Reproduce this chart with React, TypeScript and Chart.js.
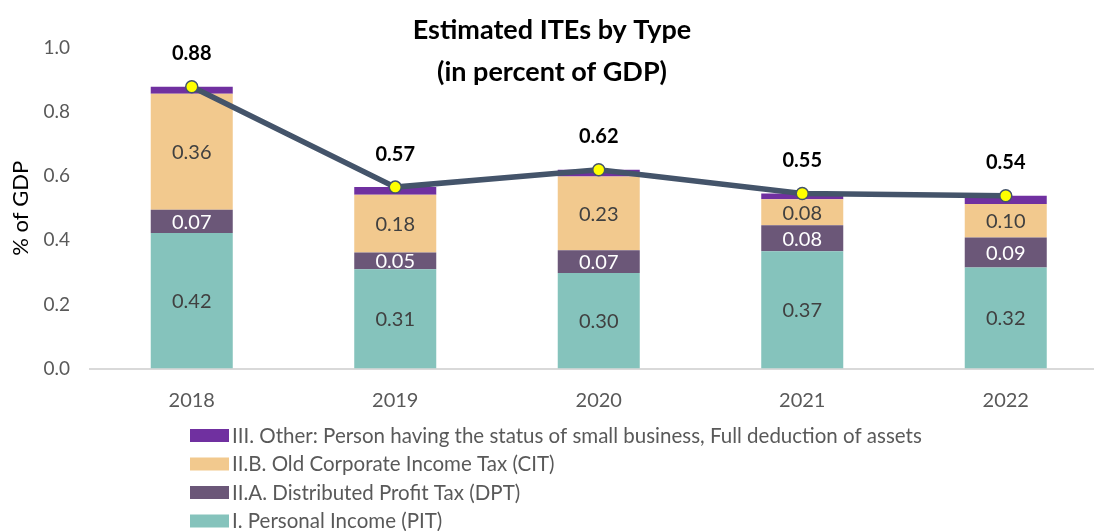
import React, { useEffect, useRef } from 'react';
import { Chart, registerables } from 'chart.js';

Chart.register(...registerables);

const years = ['2018', '2019', '2020', '2021', '2022'];
const pitValues = [0.423, 0.310, 0.298, 0.366, 0.315];
const dptValues = [0.072, 0.052, 0.071, 0.081, 0.094];
const citValues = [0.362, 0.180, 0.230, 0.081, 0.104];
const otherValues = [0.022, 0.024, 0.021, 0.018, 0.026];
const totalValues = [0.879, 0.566, 0.620, 0.546, 0.539];

const pitLabel = 'I. Personal Income (PIT)';
const dptLabel = 'II.A. Distributed Profit Tax (DPT)';
const citLabel = 'II.B. Old Corporate Income Tax (CIT)';
const otherLabel = 'III. Other: Person having the status of small business, Full deduction of assets';
const totalLabel = 'Total';
const titleLines = ['Estimated ITEs by Type', '(in percent of GDP)'];
const yAxisTitle = '% of GDP';

const FONT = 'Lato';

const labelsPlugin = {
  id: 'customLabels',
  afterDatasetsDraw(chart: any) {
    const ctx = chart.ctx;
    ctx.save();
    chart.data.datasets.forEach((ds: any, i: number) => {
      const meta = chart.getDatasetMeta(i);
      if (meta.hidden) return;
      if (ds.showValue === false) return;
      meta.data.forEach((el: any, j: number) => {
        const v = ds.data[j];
        const text = v.toFixed(2);
        if (ds.type === 'line') {
          ctx.font = `bold 20px ${FONT}`;
          ctx.fillStyle = '#000000';
          ctx.textAlign = 'center';
          ctx.textBaseline = 'middle';
          ctx.fillText(text, el.x, el.y - 33);
        } else {
          const p = el.getProps(['x', 'y', 'base'], true);
          ctx.font = `20px ${FONT}`;
          ctx.fillStyle = ds.valueColor;
          ctx.textAlign = 'center';
          ctx.textBaseline = 'middle';
          ctx.fillText(text, p.x, (p.y + p.base) / 2 + 1);
        }
      });
    });
    ctx.restore();
  },
  afterDraw(chart: any) {
    const ctx = chart.ctx;
    ctx.save();
    // title
    ctx.font = `bold 27px ${FONT}`;
    ctx.fillStyle = '#000000';
    ctx.textAlign = 'center';
    ctx.textBaseline = 'middle';
    ctx.fillText(titleLines[0], 552, 30);
    ctx.fillText(titleLines[1], 552, 72);
    // legend (reverse order, bars only)
    const items = chart.data.datasets.filter((d: any) => d.type === 'bar').slice().reverse();
    ctx.font = `20.5px ${FONT}`;
    ctx.textAlign = 'left';
    ctx.textBaseline = 'middle';
    items.forEach((d: any, k: number) => {
      const cy = 435 + k * 28.5;
      ctx.fillStyle = d.backgroundColor;
      ctx.fillRect(190, cy - 6, 39, 13);
      ctx.fillStyle = '#595959';
      ctx.fillText(d.label, 232, cy + 1);
    });
    ctx.restore();
  },
};

export default function App() {
  const ref = useRef<HTMLCanvasElement | null>(null);
  useEffect(() => {
    if (!ref.current) return;
    const chart = new Chart(ref.current, {
      type: 'bar',
      data: {
        labels: years,
        datasets: [
          {
            type: 'line',
            label: totalLabel,
            data: totalValues,
            borderColor: '#44546A',
            borderWidth: 5.5,
            pointRadius: 6,
            pointBackgroundColor: '#FFFF00',
            pointBorderColor: '#44546A',
            pointBorderWidth: 1.5,
            tension: 0,
            order: 0,
            stack: 'total',
          } as any,
          {
            type: 'bar',
            label: pitLabel,
            data: pitValues,
            backgroundColor: '#85C3BC',
            valueColor: '#404040',
            order: 1,
          } as any,
          {
            type: 'bar',
            label: dptLabel,
            data: dptValues,
            backgroundColor: '#6B5778',
            valueColor: '#FFFFFF',
            order: 1,
          } as any,
          {
            type: 'bar',
            label: citLabel,
            data: citValues,
            backgroundColor: '#F2C98E',
            valueColor: '#404040',
            order: 1,
          } as any,
          {
            type: 'bar',
            label: otherLabel,
            data: otherValues,
            backgroundColor: '#7030A0',
            showValue: false,
            order: 1,
          } as any,
        ],
      },
      options: {
        animation: false,
        responsive: true,
        maintainAspectRatio: false,
        datasets: {
          bar: { categoryPercentage: 1, barPercentage: 0.403, borderWidth: 0 },
        },
        layout: { padding: { top: 48, right: 0, bottom: 122.5, left: 0 } },
        plugins: {
          legend: { display: false },
          title: { display: false },
          tooltip: { enabled: false },
        },
        scales: {
          x: {
            stacked: true,
            grid: { display: false, drawTicks: false },
            border: { display: true, color: '#D9D9D9', width: 2 },
            ticks: { font: { family: FONT, size: 20 }, color: '#595959', padding: 20 },
            afterFit: (s: any) => { s.height = 40; },
          },
          y: {
            stacked: true,
            min: 0,
            max: 1,
            grid: { display: false, drawTicks: false },
            border: { display: false },
            ticks: {
              stepSize: 0.2,
              font: { family: FONT, size: 19 },
              color: '#595959',
              padding: 20,
              callback: (v: any) => Number(v).toFixed(1),
            },
            title: {
              display: true,
              text: yAxisTitle,
              font: { family: FONT, size: 22 },
              color: '#000000',
              padding: { top: 8, bottom: 0 },
            },
            afterFit: (s: any) => { s.width = 90; },
          },
        },
      },
      plugins: [labelsPlugin],
    });
    return () => chart.destroy();
  }, []);
  return (
    <div style={{ position: 'fixed', left: 0, top: 0, width: 1115, height: 531, background: '#ffffff' }}>
      <canvas ref={ref} />
    </div>
  );
}
